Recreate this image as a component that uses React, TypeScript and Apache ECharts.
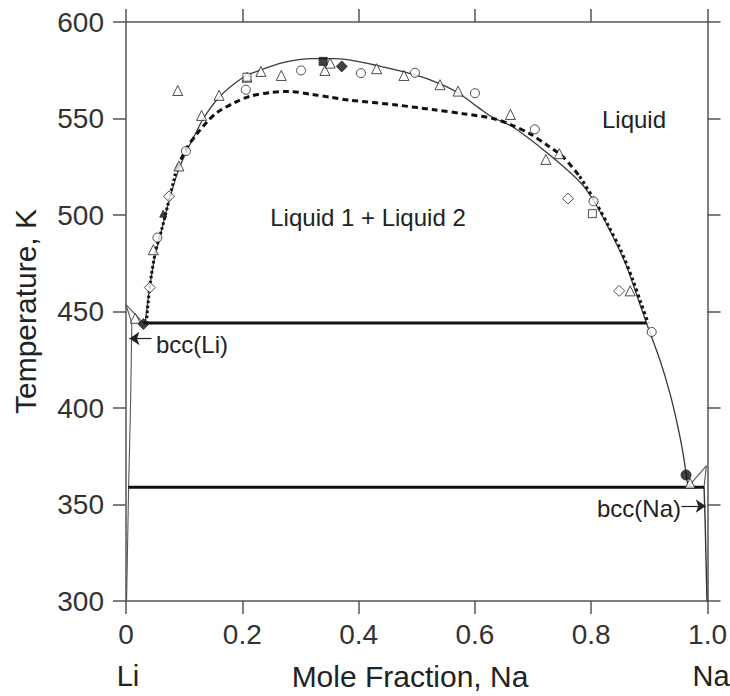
import React, { useEffect, useRef } from 'react';
import * as echarts from 'echarts';

// ---- Data (mole fraction Na, temperature K) ----
const xTickValues = [0, 0.2, 0.4, 0.6, 0.8, 1.0];
const yTickValues = [300, 350, 400, 450, 500, 550, 600];

// calculated miscibility gap / liquidus (thin solid)
const liquidusSolid: number[][] = [
  [0.033, 444], [0.041, 463], [0.050, 479], [0.061, 492], [0.076, 509.5],
  [0.090, 523], [0.105, 533.5], [0.120, 542.5], [0.133, 550], [0.160, 561],
  [0.200, 571], [0.230, 575], [0.270, 579], [0.320, 581], [0.360, 581],
  [0.400, 579.5], [0.431, 577.5], [0.480, 574], [0.523, 570], [0.570, 563.5],
  [0.609, 555], [0.631, 550.5], [0.666, 545.5], [0.723, 532.5], [0.781, 517],
  [0.804, 507.5], [0.832, 492], [0.860, 474], [0.880, 457], [0.895, 444],
  [0.918, 425], [0.935, 408], [0.947, 393], [0.957, 378], [0.966, 360]
];

// alternative calculated miscibility gap (thick dashed; dotted near both ends)
const gapDottedLeft: number[][] = [
  [0.035, 444], [0.041, 463], [0.050, 480], [0.061, 492], [0.075, 509], [0.087, 524]
];
const gapDashed: number[][] = [
  [0.087, 524], [0.105, 535], [0.122, 542], [0.140, 548.5], [0.156, 553],
  [0.185, 558], [0.213, 561.5], [0.250, 563.5], [0.280, 564], [0.320, 562.5],
  [0.351, 561], [0.385, 559.5], [0.465, 557], [0.530, 554.5], [0.580, 552.5],
  [0.631, 550], [0.660, 547], [0.695, 542], [0.725, 536], [0.752, 530], [0.780, 520]
];
const gapDottedRight: number[][] = [
  [0.780, 520], [0.806, 507.5], [0.832, 493], [0.852, 481], [0.872, 466],
  [0.886, 454], [0.898, 444]
];

// invariant (monotectic / eutectic) lines
const monotecticLine: number[][] = [[0.030, 444], [0.895, 444]];
const eutecticLine: number[][] = [[0.004, 359], [0.994, 359]];

// Li-rich side
const liLiquidus: number[][] = [[0, 453.5], [0.030, 444]];
const liSolidus: number[][] = [[0, 453.5], [0.010, 444]];
const liSolvus: number[][] = [[0.010, 444], [0.008, 404], [0.0045, 359], [0.001, 300]];

// Na-rich side
const naLiquidus: number[][] = [[0.966, 359], [0.998, 370]];
const naSolidus: number[][] = [[0.998, 370], [0.994, 359]];
const naSolvus: number[][] = [[0.994, 359], [0.996, 340], [0.999, 300]];

// experimental points
const openTriangles: number[][] = [
  [0.089, 564.5], [0.130, 551.6], [0.160, 562], [0.208, 571.4], [0.232, 574.4],
  [0.267, 572.3], [0.342, 574.9], [0.351, 578.7], [0.091, 525.4], [0.047, 482],
  [0.431, 575.8], [0.478, 572.3], [0.540, 567.5], [0.571, 564.2], [0.661, 552.1],
  [0.722, 528.8], [0.745, 531.8], [0.867, 460.7], [0.016, 446.5], [0.970, 361]
];
const openCircles: number[][] = [
  [0.103, 533.1], [0.206, 564.9], [0.301, 574.9], [0.054, 488.3], [0.404, 573.5],
  [0.497, 573.7], [0.600, 563.1], [0.703, 544.4], [0.804, 507.1], [0.904, 439.4]
];
const openDiamonds: number[][] = [
  [0.074, 509.7], [0.041, 462.4], [0.760, 508.5], [0.848, 460.7]
];
const openSquares: number[][] = [[0.208, 571.4], [0.802, 500.7]];
const filledSquares: number[][] = [[0.339, 579.6]];
const filledDiamonds: number[][] = [[0.371, 577], [0.030, 443.5]];
const filledTriangles: number[][] = [[0.064, 500.7]];
const filledCircles: number[][] = [[0.963, 365.3]];

// arrows for phase labels
const bccLiArrow: number[][] = [[0.044, 436], [0.006, 436]];
const bccNaArrow: number[][] = [[0.955, 349.2], [0.997, 349.2]];

const FONT = '"Liberation Sans", Arial, Helvetica, sans-serif';
const INK = '#222';
const AXIS = '#555';

function thinLine(name: string, data: number[][], color = '#555', width = 1.1) {
  return {
    name, type: 'line', data, showSymbol: false, symbol: 'none', silent: true,
    lineStyle: { color, width }, z: 3
  };
}

function thickCurve(name: string, data: number[][], dash: number[]) {
  return {
    name, type: 'line', data, smooth: 0.3, showSymbol: false, symbol: 'none', silent: true,
    lineStyle: { color: '#111', width: 3, type: dash }, z: 4
  };
}

function points(name: string, data: number[][], symbol: string, filled: boolean, size = 9) {
  return {
    name, type: 'scatter', data, symbol, symbolSize: size, silent: true, z: 5,
    itemStyle: { color: filled ? '#111' : '#fff', borderColor: '#222', borderWidth: 1 }
  };
}

function arrowSeries(name: string, seg: number[][]) {
  return {
    name, type: 'line', data: [], silent: true, z: 6,
    markLine: {
      silent: true, symbol: ['none', 'arrow'], symbolSize: 10, animation: false,
      label: { show: false }, lineStyle: { color: INK, width: 1.2, type: 'solid' },
      data: [[{ coord: seg[0] }, { coord: seg[1] }]]
    }
  };
}

export default function App() {
  const ref = useRef<HTMLDivElement>(null);
  useEffect(() => {
    if (!ref.current) return;
    const chart = echarts.init(ref.current, null, { renderer: 'svg' });
    const axisCommon = {
      axisLine: { show: true, onZero: false, lineStyle: { color: AXIS, width: 1.5 } },
      axisTick: { show: true, inside: false, length: 13, lineStyle: { color: AXIS, width: 1.5 } },
      splitLine: { show: false }
    };
    const txt = (text: string, x: number, y: number, fontSize: number, align = 'center') => ({
      type: 'text', x, y,
      style: { text, fontSize, fontFamily: FONT, fill: INK, align, verticalAlign: 'middle', textAlign: align, textVerticalAlign: 'middle' }
    });
    const option: any = {
      animation: false,
      backgroundColor: '#fff',
      textStyle: { fontFamily: FONT },
      grid: { left: 126, right: 22, top: 22, bottom: 95, containLabel: false },
      xAxis: [
        {
          type: 'value', position: 'bottom', min: 0, max: 1, interval: 0.2,
          ...axisCommon,
          axisLabel: {
            fontSize: 28, color: '#333', fontFamily: FONT, margin: 19,
            formatter: (v: number) => {
              const t = xTickValues.find((k) => Math.abs(k - v) < 1e-6);
              const val = t === undefined ? v : t;
              return val === 0 ? '0' : val.toFixed(1);
            }
          }
        },
        {
          type: 'value', position: 'top', min: 0, max: 1, interval: 0.2,
          ...axisCommon,
          axisLabel: { show: false }
        }
      ],
      yAxis: [
        {
          type: 'value', position: 'left', min: yTickValues[0], max: yTickValues[yTickValues.length - 1], interval: 50,
          ...axisCommon,
          axisLabel: { fontSize: 28, color: '#333', fontFamily: FONT, margin: 22 },
          name: 'Temperature, K', nameLocation: 'middle', nameGap: 86,
          nameTextStyle: { fontSize: 30, color: INK, fontFamily: FONT }
        },
        {
          type: 'value', position: 'right', min: 300, max: 600, interval: 50,
          ...axisCommon,
          axisLabel: { show: false }
        }
      ],
      graphic: [
        txt('Mole Fraction, Na', 410, 676, 30),
        txt('Li', 128, 676, 29),
        txt('Na', 711, 676, 29),
        txt('Liquid', 634, 119, 24),
        txt('Liquid 1 + Liquid 2', 368, 217, 24),
        txt('bcc(Li)', 156, 344, 24, 'left'),
        txt('bcc(Na)', 597, 508, 24, 'left')
      ],
      series: [
        thinLine('Li liquidus', liLiquidus),
        thinLine('Li solidus', liSolidus),
        thinLine('Li solvus', liSolvus),
        thinLine('Na liquidus', naLiquidus),
        thinLine('Na solidus', naSolidus),
        thinLine('Na solvus', naSolvus, '#333', 1.4),
        {
          name: 'Calculated gap', type: 'line', data: liquidusSolid, smooth: 0.3, showSymbol: false,
          symbol: 'none', silent: true, lineStyle: { color: '#3a3a3a', width: 1.3 }, z: 3
        },
        thickCurve('Calculated gap (alt) left', gapDottedLeft, [2.5, 2.5]),
        thickCurve('Calculated gap (alt)', gapDashed, [6, 4]),
        thickCurve('Calculated gap (alt) right', gapDottedRight, [3, 3]),
        {
          name: 'Monotectic', type: 'line', data: monotecticLine, showSymbol: false, symbol: 'none', silent: true,
          lineStyle: { color: '#111', width: 3 }, z: 4
        },
        {
          name: 'Eutectic', type: 'line', data: eutecticLine, showSymbol: false, symbol: 'none', silent: true,
          lineStyle: { color: '#111', width: 3 }, z: 4
        },
        arrowSeries('bcc(Li) arrow', bccLiArrow),
        arrowSeries('bcc(Na) arrow', bccNaArrow),
        points('open triangles', openTriangles, 'triangle', false, 10),
        points('open circles', openCircles, 'circle', false, 9),
        points('open diamonds', openDiamonds, 'diamond', false, 11),
        points('open squares', openSquares, 'rect', false, 8),
        points('filled squares', filledSquares, 'rect', true, 8),
        points('filled diamonds', filledDiamonds, 'diamond', true, 11),
        points('filled triangles', filledTriangles, 'triangle', true, 7),
        points('filled circles', filledCircles, 'circle', true, 10)
      ]
    };
    chart.setOption(option);
    return () => chart.dispose();
  }, []);
  return (
    <div
      ref={ref}
      style={{ position: 'fixed', left: 0, top: 0, width: 730, height: 696, background: '#fff' }}
    />
  );
}
